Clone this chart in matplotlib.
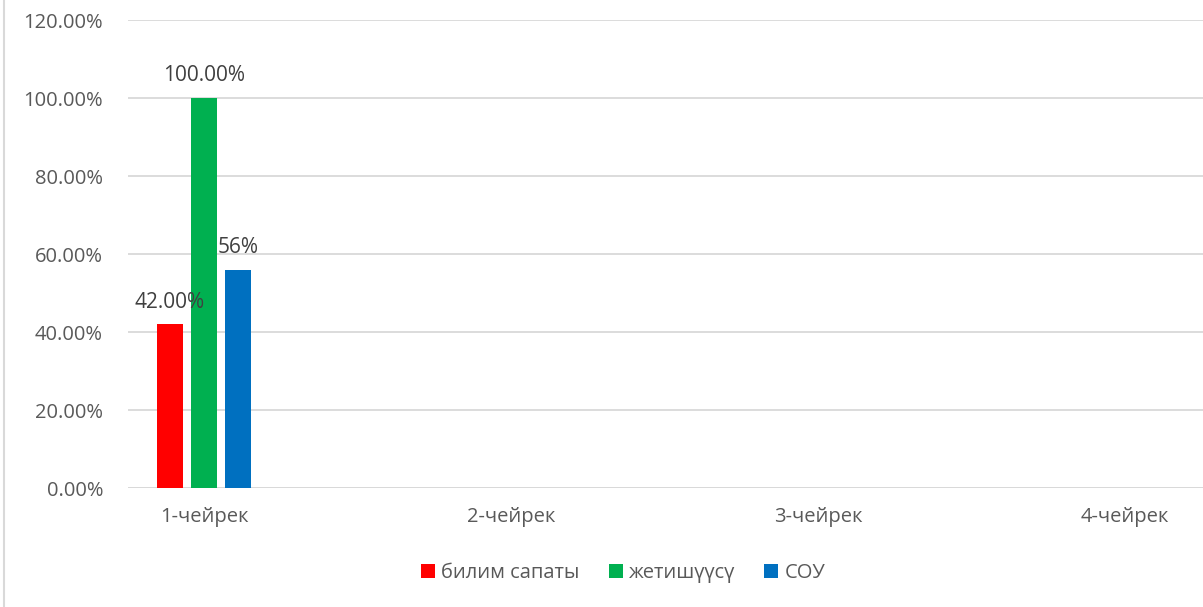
import numpy as np
import matplotlib.pyplot as plt
from matplotlib.patches import Patch
from matplotlib.lines import Line2D

categories = ["1-чейрек", "2-чейрек", "3-чейрек", "4-чейрек"]
series_names = ["билим сапаты", "жетишүүсү", "СОУ"]
bilim = [0.42, None, None, None]
jetish = [1.00, None, None, None]
sou = [0.56, None, None, None]
labels = [["42.00%"], ["100.00%"], ["56%"]]
colors = ["#FF0000", "#00B050", "#0070C0"]

plt.rcParams['font.family'] = ['Open Sans', 'DejaVu Sans']

W, H = 1203, 607
fig = plt.figure(figsize=(W / 100, H / 100), dpi=100)
ax = fig.add_axes([128 / W, 1 - 488 / H, (1203 - 128) / W, (488 - 20) / H])

x = np.arange(len(categories))
offsets = [-0.111, 0.0, 0.111]
width = 0.087
for k, (vals, col) in enumerate(zip([bilim, jetish, sou], colors)):
    for i, v in enumerate(vals):
        if v is None:
            continue
        ax.bar(x[i] + offsets[k], v, width, color=col, zorder=3)
        ax.text(x[i] + offsets[k], v + 0.03, labels[k][i], ha="center", va="bottom",
                fontsize=15, color="#404040", zorder=4)

ax.set_ylim(0, 1.2)
ax.set_xlim((128 - 204) / 307, (1203 - 204) / 307)
yt = np.arange(0, 1.21, 0.2)
ax.set_yticks(yt)
ax.set_yticklabels([f"{v * 100:.2f}%" for v in yt], fontsize=14.5, color="#595959")
ax.set_xticks(x)
ax.set_xticklabels(categories, fontsize=14.5, color="#595959")
ax.tick_params(axis="both", length=0)
ax.tick_params(axis="y", pad=18)
ax.tick_params(axis="x", pad=14)
ax.grid(axis="y", color="#D9D9D9", linewidth=1.3, zorder=0)
for s in ax.spines.values():
    s.set_visible(False)
ax.axhline(0, color="#D9D9D9", linewidth=1.3, zorder=2)

handles = [Patch(facecolor=c, edgecolor="none") for c in colors]
fig.legend(handles, series_names, loc="center", bbox_to_anchor=(623 / W, 1 - 573 / H),
           ncol=3, frameon=False, fontsize=14.5, labelcolor="#595959",
           handlelength=0.7, handleheight=0.7, handletextpad=0.3, columnspacing=1.45)

fig.add_artist(Line2D([3.5 / W, 3.5 / W], [0, 1], color="#D9D9D9", linewidth=1.5,
                      transform=fig.transFigure))

fig.savefig("out.png", dpi=100)
